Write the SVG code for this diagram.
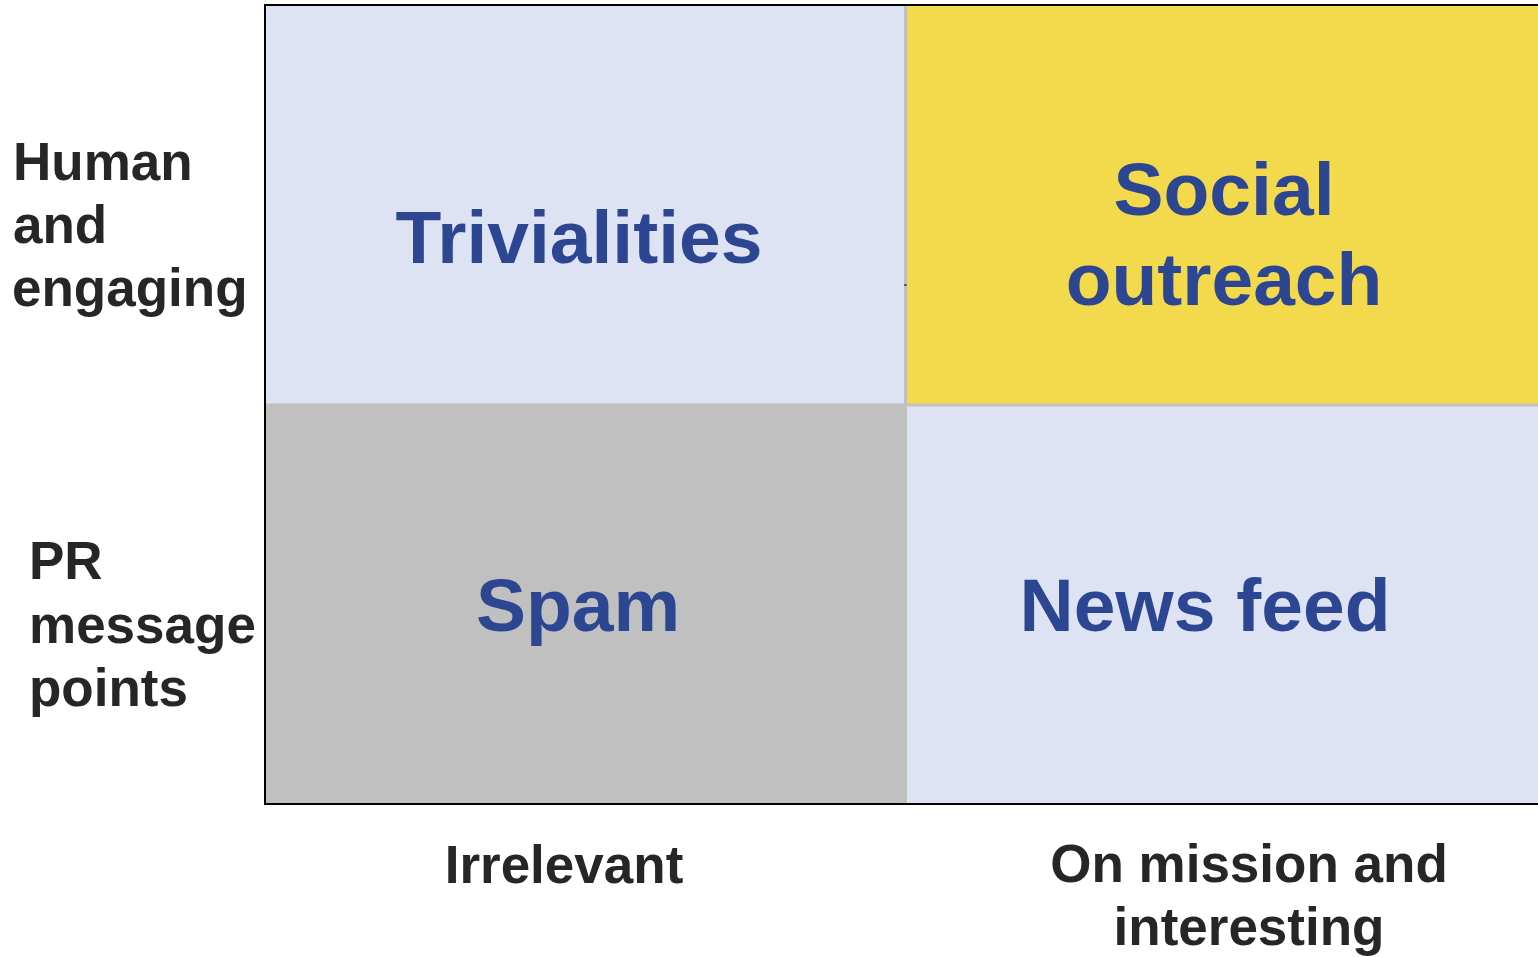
<svg xmlns="http://www.w3.org/2000/svg" width="1538" height="957" viewBox="0 0 1538 957">
<style>
.q{font-family:"Liberation Sans",Arial,sans-serif;font-weight:bold;font-size:75px;fill:#2d4692;text-anchor:middle}
.ax{font-family:"Liberation Sans",Arial,sans-serif;font-weight:bold;font-size:53px;fill:#262626}
.axm{text-anchor:middle}
</style>
<rect width="1538" height="957" fill="#ffffff"/>
<g id="cell-trivialities">
<rect x="265" y="5" width="640" height="400" fill="#dde3f3"/>
<text class="q" x="579" y="263">Trivialities</text>
</g>
<g id="cell-social">
<rect x="905" y="5" width="633" height="400" fill="#f2da4c"/>
<text class="q" x="1224" y="215">Social</text>
<text class="q" x="1224" y="305">outreach</text>
</g>
<g id="cell-spam">
<rect x="265" y="405" width="640" height="399" fill="#c0c0c0"/>
<text class="q" x="578" y="631">Spam</text>
</g>
<g id="cell-news">
<rect x="905" y="405" width="633" height="399" fill="#dde3f3"/>
<text class="q" x="1205" y="631">News feed</text>
</g>
<g id="connectors">
<line x1="905.5" y1="5" x2="905.5" y2="804" stroke="#c0c0c0" stroke-width="3"/>
<line x1="265" y1="405" x2="1538" y2="405" stroke="#c0c0c0" stroke-width="3"/>
<line x1="904" y1="285" x2="907" y2="285" stroke="#000" stroke-width="1"/>
<line x1="265" y1="5" x2="1538" y2="5" stroke="#000" stroke-width="2"/>
<line x1="265" y1="804" x2="1538" y2="804" stroke="#000" stroke-width="2"/>
<line x1="265" y1="4" x2="265" y2="805" stroke="#000" stroke-width="2"/>
</g>
<g id="label-human">
<text class="ax" x="13" y="180">Human</text>
<text class="ax" x="13" y="243">and</text>
<text class="ax" x="12" y="306">engaging</text>
</g>
<g id="label-pr">
<text class="ax" x="29" y="579">PR</text>
<text class="ax" x="29" y="643">message</text>
<text class="ax" x="29" y="706">points</text>
</g>
<g id="label-irrelevant">
<text class="ax axm" x="564" y="883">Irrelevant</text>
</g>
<g id="label-onmission">
<text class="ax axm" x="1249" y="882">On mission and</text>
<text class="ax axm" x="1249" y="945">interesting</text>
</g>
</svg>
